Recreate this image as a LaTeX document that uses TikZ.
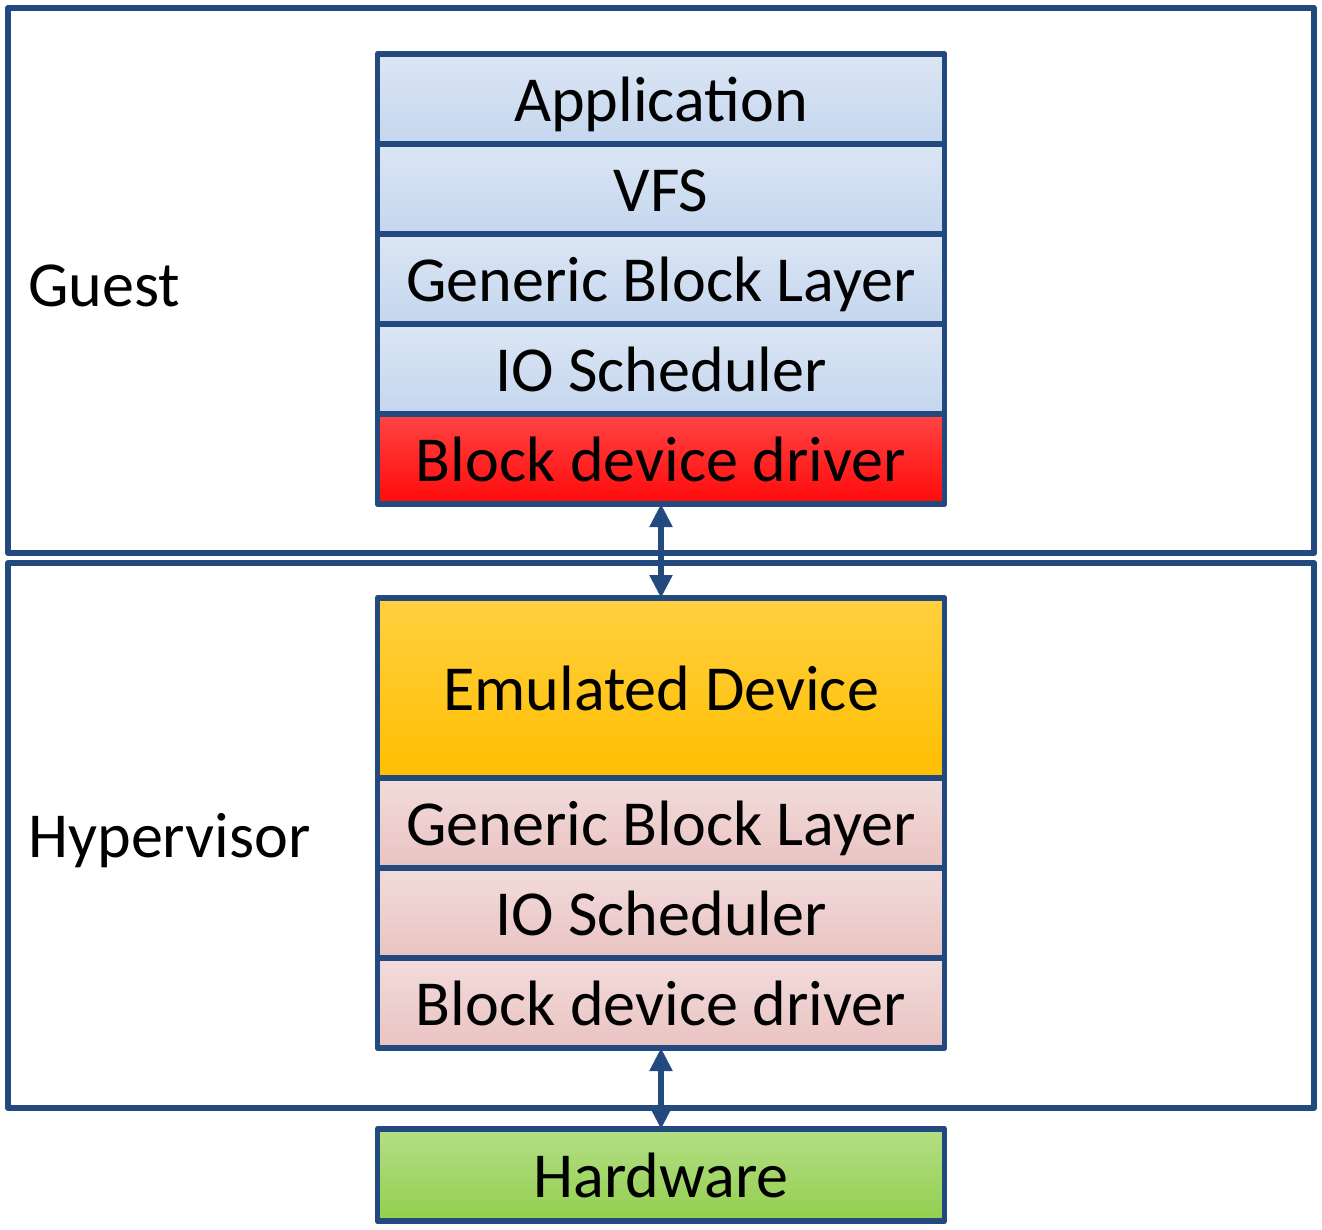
\documentclass[tikz,border=0pt]{standalone}
\usepackage{fontspec}
\setmainfont{Carlito}
\usetikzlibrary{positioning,arrows.meta}
\definecolor{edgeblue}{HTML}{224A7E}
\definecolor{guesttop}{HTML}{DCE6F4}
\definecolor{guestbot}{HTML}{C4D6EE}
\definecolor{redtop}{HTML}{FF4444}
\definecolor{redbot}{HTML}{FF0A0A}
\definecolor{emutop}{HTML}{FFD040}
\definecolor{emubot}{HTML}{FFBE00}
\definecolor{hosttop}{HTML}{F2DCDB}
\definecolor{hostbot}{HTML}{E9C3C2}
\definecolor{hwtop}{HTML}{B4DE86}
\definecolor{hwbot}{HTML}{92CF4E}
\newcommand{\layerfont}{\fontsize{36.5}{44}\selectfont}
\tikzset{
  frame/.style={draw=edgeblue, line width=3.4pt, line join=round, minimum width=26.12cm, minimum height=10.9cm, inner sep=0pt, outer sep=0pt, anchor=north west},
  layer/.style={draw=edgeblue, line width=3.4pt, line join=round, minimum width=11.34cm, minimum height=1.8cm, inner sep=0pt, outer sep=0pt, font=\layerfont, text height=31pt, text depth=5.6pt},
  guestlayer/.style={layer, top color=guesttop, bottom color=guestbot},
  hostlayer/.style={layer, top color=hosttop, bottom color=hostbot},
  link/.style={draw=edgeblue, line width=3pt, {Triangle[length=0.46cm,width=0.44cm]}-{Triangle[length=0.46cm,width=0.44cm]}},
  side/.style={font=\layerfont, anchor=west, inner sep=0pt}
}
\begin{document}
\begin{tikzpicture}
  \useasboundingbox (0,0) rectangle (26.44,-24.6);
  \node[frame] (guest) at (0.16,-0.16) {};
  \node[frame] (hyper) at (0.16,-11.26) {};
  \node[side] (guestlabel) at ([xshift=0.4cm,yshift=-0.1cm]guest.west) {Guest};
  \node[side] (hyperlabel) at ([xshift=0.4cm,yshift=-0.1cm]hyper.west) {Hypervisor};
  % guest stack
  \node[guestlayer, anchor=north] (app) at (13.22,-1.08) {Application};
  \node[guestlayer, below=0pt of app] (vfs) {VFS};
  \node[guestlayer, below=0pt of vfs] (gblock) {Generic Block Layer};
  \node[guestlayer, below=0pt of gblock] (gsched) {IO Scheduler};
  \node[layer, top color=redtop, bottom color=redbot, below=0pt of gsched] (gdriver) {Block device driver};
  % hypervisor stack
  \node[layer, top color=emutop, bottom color=emubot, minimum height=3.6cm, anchor=north] (emu) at (13.22,-11.96) {Emulated Device};
  \node[hostlayer, below=0pt of emu] (hblock) {Generic Block Layer};
  \node[hostlayer, below=0pt of hblock] (hsched) {IO Scheduler};
  \node[hostlayer, below=0pt of hsched] (hdriver) {Block device driver};
  \node[layer, top color=hwtop, bottom color=hwbot, minimum height=1.84cm, anchor=north] (hw) at (13.22,-22.58) {Hardware};
  \begin{scope}[link]
    \draw (gdriver) to (emu);
    \draw (hdriver) to (hw);
  \end{scope}
\end{tikzpicture}
\end{document}
